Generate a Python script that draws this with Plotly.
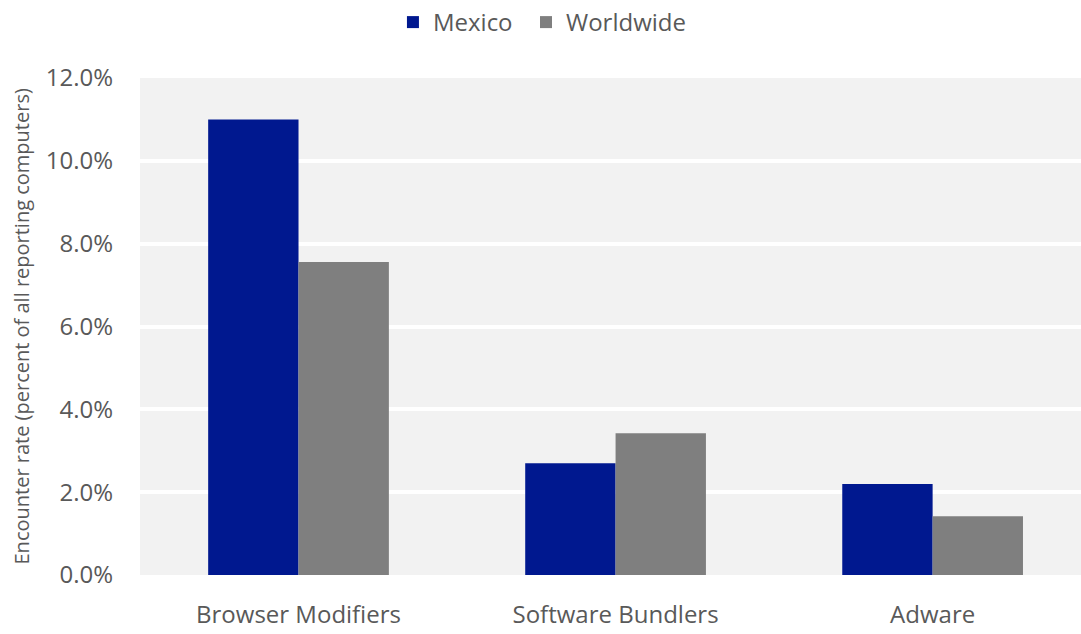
import plotly.graph_objects as go

categories = ["Browser Modifiers", "Software Bundlers", "Adware"]
mexico = [11.0, 2.70, 2.20]
worldwide = [7.56, 3.42, 1.42]
tick_vals = [0, 2, 4, 6, 8, 10, 12]
tick_text = ["0.0%", "2.0%", "4.0%", "6.0%", "8.0%", "10.0%", "12.0%"]
y_title = "Encounter rate (percent of all reporting computers)"

FONT = "Open Sans"
TXT = "#595959"

fig = go.Figure()
fig.add_trace(go.Bar(name="Mexico", x=categories, y=mexico, marker_color="#00188F",
                     marker_line_width=0, legend="legend"))
fig.add_trace(go.Bar(name="Worldwide", x=categories, y=worldwide, marker_color="#7F7F7F",
                     marker_line_width=0, legend="legend2"))

leg_common = dict(orientation="h", xref="container", xanchor="left",
                  yref="container", y=1.0, yanchor="top",
                  font=dict(size=24, color=TXT), itemwidth=30,
                  bgcolor="rgba(0,0,0,0)")

fig.update_layout(
    width=1081, height=634,
    margin=dict(l=140, r=0, t=78, b=59),
    paper_bgcolor="white", plot_bgcolor="#F2F2F2",
    barmode="group", bargap=0.43, bargroupgap=0,
    font=dict(family=FONT, color=TXT, size=24),
    showlegend=True,
    legend=dict(x=0.3635, **leg_common),
    legend2=dict(x=0.4866, **leg_common),
    xaxis=dict(range=[-0.5, 2.468], showgrid=False, showline=False, zeroline=False,
               tickfont=dict(size=24, color=TXT), ticklabelstandoff=23),
    yaxis=dict(range=[0, 12], tickvals=tick_vals, ticktext=tick_text,
               showgrid=True, gridcolor="white", gridwidth=4,
               zeroline=False, showline=False,
               tickfont=dict(size=24, color=TXT), ticklabelstandoff=26),
    annotations=[dict(text=y_title, textangle=-90, xref="paper", yref="paper",
                      x=-0.1254, y=0.5, xanchor="center", yanchor="middle",
                      showarrow=False, font=dict(size=20, color=TXT))],
)

fig.write_html("out.html", config={"displayModeBar": False},
               post_script="document.body.style.margin='0';")
